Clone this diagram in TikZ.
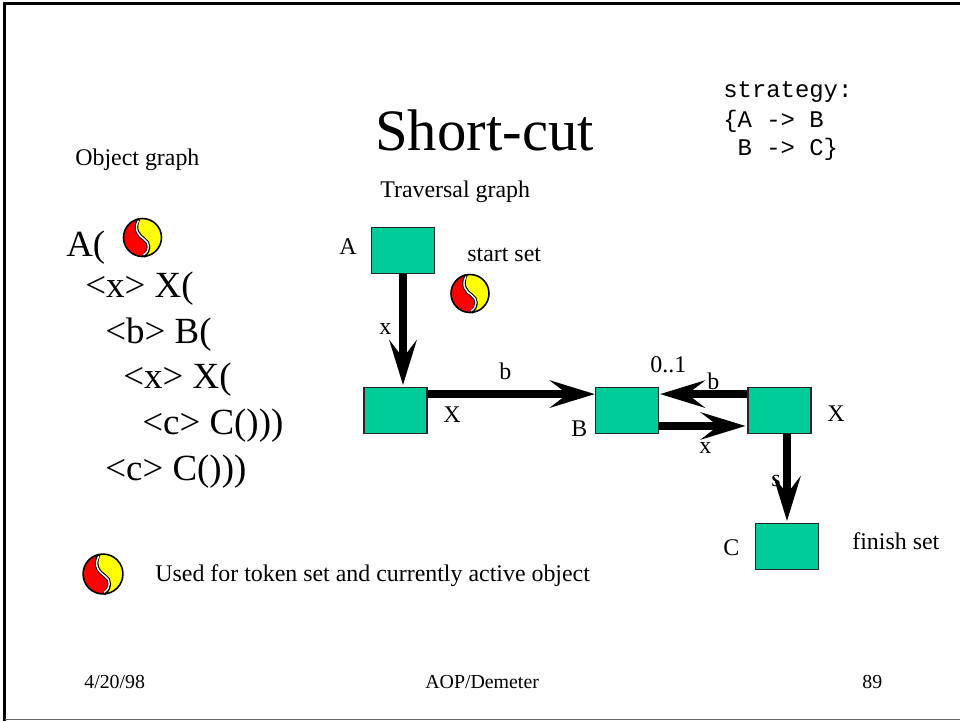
\documentclass[tikz,border=0pt]{standalone}
\usepackage{fontspec}
\setmainfont{Liberation Serif}
\setmonofont{Liberation Mono}
\usetikzlibrary{arrows.meta,positioning}
\definecolor{boxgreen}{RGB}{0,204,153}
\definecolor{tokenred}{RGB}{255,0,0}
\definecolor{tokenyellow}{RGB}{255,255,0}

\tikzset{
  token/.pic={
    \fill[tokenred] (0,0) circle (19);
    \fill[tokenyellow] (-4,-18.5) .. controls (-9,-8) and (-4,-2) .. (2,2)
      .. controls (7,5) and (8,13) .. (1,18.9) arc (87:-102:19) -- cycle;
    \draw[black,line width=2pt] (-4,-18.5) .. controls (-9,-8) and (-4,-2) .. (2,2)
      .. controls (7,5) and (8,13) .. (1,18.9);
    \draw[white,line width=0.8pt] (-4,-17) .. controls (-9,-8) and (-4,-2) .. (2,2)
      .. controls (7,5) and (8,13) .. (1,17.5);
    \draw[black,line width=0.9pt] (0,0) circle (19);
  }
}

\begin{document}
\begin{tikzpicture}[x=0.02cm,y=-0.02cm]
  \tikzstyle{obj}=[draw=black!85,line width=0.8pt,fill=boxgreen,
    minimum width=1.26cm,minimum height=0.92cm,inner sep=0pt]
  \tikzstyle{lab}=[inner sep=0pt,anchor=base west,font=\fontsize{13.6}{16}\selectfont]
  \tikzstyle{foot}=[inner sep=0pt,anchor=base west,font=\fontsize{11.3}{13}\selectfont]
  \tikzstyle{code}=[inner sep=0pt,anchor=base west,font=\fontsize{21}{25}\selectfont]
  \tikzstyle{mono}=[inner sep=0pt,anchor=base west,font=\fontsize{13.6}{16}\ttfamily]
  \tikzstyle{f}=[-{Stealth[length=25.5pt,width=15.5pt,inset=10pt]},line width=4.6pt,black]

  \useasboundingbox (0,0) rectangle (960,721);
  \draw[black,line width=1.7pt] (4.6,721) -- (4.6,3.5) -- (960,3.5);
  \draw[black!60,line width=0.7pt] (4.6,719.7) -- (960,719.7);

  \node[inner sep=0pt,anchor=base west,font=\fontsize{33.4}{36}\selectfont] (title) at (375,150) {Short-cut};
  \node[lab] (objgraph) at (75,165) {Object graph};
  \node[lab] (travgraph) at (380,197) {Traversal graph};

  \node[mono] (strat1) at (723,97) {strategy:};
  \node[mono] (strat2) at (723,127) {\{A -> B};
  \node[mono] (strat3) at (723,155) {\ B -> C\}};

  \node[code] (l1) at (66,256) {A(};
  \node[code] (l2) at (85,297) {<x> X(};
  \node[code] (l3) at (105,343) {<b> B(};
  \node[code] (l4) at (123,388) {<x> X(};
  \node[code] (l5) at (142,434) {<c> C()))};
  \node[code] (l6) at (105,480) {<c> C()))};

  \pic at (142.5,237.5) {token};
  \pic at (470,293.5) {token};
  \pic[scale=1.05] at (103,574) {token};

  \node[obj] (a) at (403,250.5) {};
  \node[obj] (x1) at (395.5,410.5) {};
  \node[obj] (b) at (627,410.5) {};
  \node[obj] (x2) at (779.5,410.5) {};
  \node[obj] (c) at (787,546.5) {};

  \draw[f] (a.south) -- ([yshift=1pt]a.south |- x1.north);
  \draw[f] ([yshift=9.35pt]x1.east) -- ([yshift=9.35pt]b.west);
  \draw[f] ([yshift=9.35pt]x2.west) -- ([yshift=9.35pt,xshift=0.5pt]b.east);
  \draw[f] ([yshift=-8.8pt]b.east) -- ([yshift=-8.8pt,xshift=-1pt]x2.west);
  \draw[f] (c.north |- x2.south) -- ([yshift=1pt]c.north);

  \node[lab] (la) at (339,254) {A};
  \node[lab] (lstart) at (467,261) {start set};
  \node[lab] (lx) at (379,334) {x};
  \node[lab] (lb1) at (499,379) {b};
  \node[lab] (lx1) at (443,422) {X};
  \node[lab] (lb) at (571,436) {B};
  \node[lab] (l01) at (650,372) {0..1};
  \node[lab] (lb2) at (707,389) {b};
  \node[lab] (lx2) at (699,453) {x};
  \node[lab] (lx3) at (827,421) {X};
  \node[lab] (ls) at (771,486) {s};
  \node[lab] (lc) at (723,555) {C};
  \node[lab] (lfinish) at (852,549) {finish set};
  \node[lab] (lused) at (155,581) {Used for token set and currently active object};

  \node[foot] (date) at (84,688) {4/20/98};
  \node[foot] (mid) at (425,688) {AOP/Demeter};
  \node[foot] (num) at (862,688) {89};
\end{tikzpicture}
\end{document}
